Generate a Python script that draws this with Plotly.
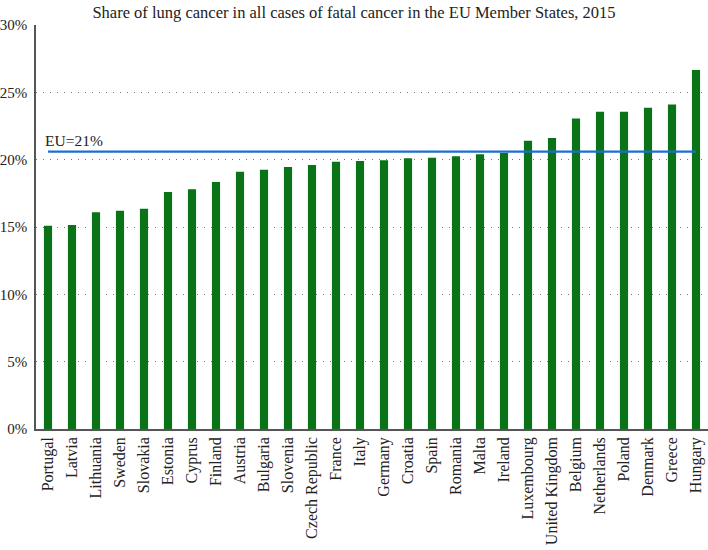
import plotly.graph_objects as go

countries = ["Portugal", "Latvia", "Lithuania", "Sweden", "Slovakia", "Estonia", "Cyprus",
             "Finland", "Austria", "Bulgaria", "Slovenia", "Czech Republic", "France", "Italy",
             "Germany", "Croatia", "Spain", "Romania", "Malta", "Ireland", "Luxembourg",
             "United Kingdom", "Belgium", "Netherlands", "Poland", "Denmark", "Greece", "Hungary"]
lung_share = [15.1, 15.15, 16.1, 16.2, 16.35, 17.6, 17.8,
              18.35, 19.1, 19.25, 19.45, 19.6, 19.85, 19.9,
              19.95, 20.1, 20.15, 20.25, 20.4, 20.5, 21.4,
              21.6, 23.05, 23.55, 23.55, 23.85, 24.1, 26.65]
eu_avg = 20.6
eu_label = "EU=21%"
title = "Share of lung cancer in all cases of fatal cancer in the EU Member States, 2015"

serif = "Liberation Serif, DejaVu Serif, serif"

fig = go.Figure()
fig.add_trace(go.Bar(x=countries, y=lung_share, marker_color="#0a7317",
                     marker_line_width=0, width=0.34))
fig.add_trace(go.Scatter(x=[countries[0], countries[-1]], y=[eu_avg, eu_avg], mode="lines",
                         line=dict(color="#1a6fd0", width=2.2)))
fig.add_annotation(x=countries[0], y=eu_avg, text=eu_label, showarrow=False,
                   xanchor="left", yanchor="bottom", xshift=-5, yshift=1,
                   font=dict(family=serif, size=15.5, color="#222"))

fig.update_layout(
    width=708, height=550,
    margin=dict(l=36, r=0, t=25, b=121),
    paper_bgcolor="white", plot_bgcolor="white",
    showlegend=False,
    title=dict(text=title, x=0.5, xanchor="center", y=1 - 12 / 550, yanchor="middle",
               font=dict(family=serif, size=16.5, color="#222")),
    font=dict(family=serif, size=15, color="#222"),
)
fig.update_yaxes(range=[0, 30], dtick=5, ticksuffix="%", showgrid=True,
                 gridcolor="#777", griddash="1px,6px", gridwidth=1,
                 showline=True, linecolor="#555", linewidth=1.5, automargin=False,
                 ticks="", zeroline=False, ticklabelstandoff=4,
                 tickfont=dict(family=serif, size=15))
fig.update_xaxes(showline=True, linecolor="#555", linewidth=1.5, tickangle=-90,
                 automargin=False, ticks="", tickfont=dict(family=serif, size=16),
                 range=[-0.5, 27.5])

# page body has a default 8px margin; drop it so the figure sits at the corner
fig.write_html("out.html", config={"displayModeBar": False},
               post_script="document.body.style.margin='0';")
